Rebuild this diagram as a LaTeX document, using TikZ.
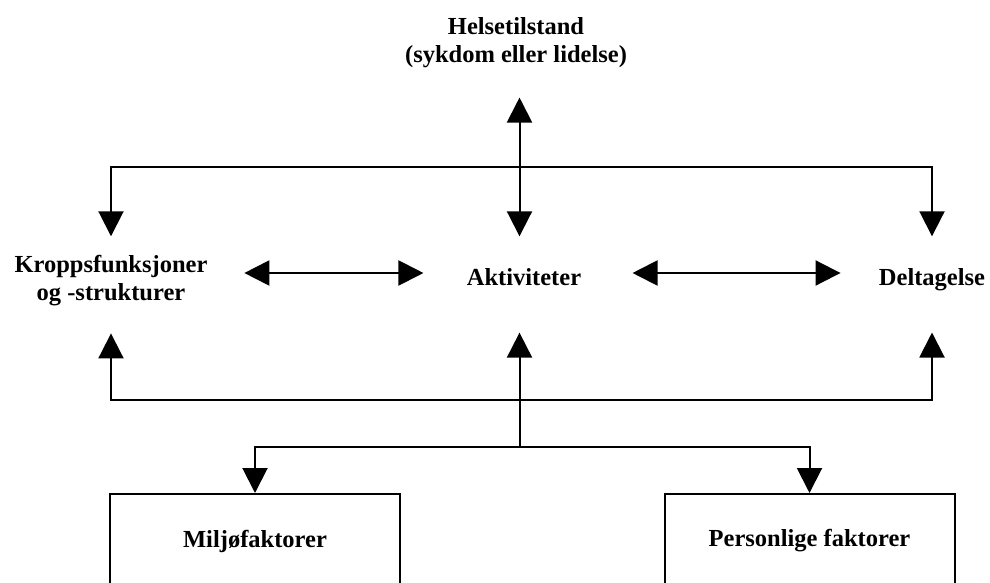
\documentclass[tikz,border=0pt]{standalone}
\usepackage{fontspec}
\setmainfont{Liberation Serif}
\usetikzlibrary{arrows.meta}
\begin{document}
\begin{tikzpicture}[x=0.5pt,y=-0.5pt,
  lbl/.style={font=\fontsize{12.25}{14}\selectfont\bfseries, inner sep=0pt, align=center},
  ln/.style={line width=1pt, black},
  arr/.style={ln, -{Triangle[length=12.5pt,width=12.5pt]}},
  dbl/.style={ln, {Triangle[length=12.5pt,width=12.5pt]}-{Triangle[length=12.5pt,width=12.5pt]}},
  box/.style={draw, line width=1pt, minimum width=145pt, minimum height=47pt, inner sep=0pt,
    font=\fontsize{12.25}{14}\selectfont\bfseries, anchor=north}
]
\useasboundingbox (0,0) rectangle (990,583);
\fill[white] (0,0) rectangle (990,583);

\node[lbl] (helse) at (516,43) {Helsetilstand\\(sykdom eller lidelse)};
\node[lbl] (kropp) at (111,281) {Kroppsfunksjoner\\og -strukturer};
\node[lbl, anchor=base] (akt) at (524,285) {Aktiviteter};
\node[lbl, anchor=base] (delt) at (932,285) {Deltagelse};
\node[box] (milj) at (255,493) {Miljøfaktorer};
\node[box] (pers) at (809.5,493) {Personlige faktorer};

\coordinate (topj) at (519.5,167);
\coordinate (botj) at (519.5,400);
\coordinate (lowj) at (519.5,447);
\coordinate (hrow) at (0,273);

\draw[dbl, shorten <=14.5pt, shorten >=15.65pt] (helse.south -| topj) -- (akt.north -| topj);
\draw[arr, shorten >=9.5pt] (topj) -| (kropp.north);
\draw[arr, shorten >=15.65pt] (topj) -| (delt.north);
\draw[arr, shorten >=13.35pt] (botj) -| (kropp.south);
\draw[arr, shorten >=20.85pt] (botj) -| (delt.south);
\draw[arr, shorten >=23.5pt] (lowj) -- (akt.south -| lowj);
\draw[arr] (lowj) -| (milj.north);
\draw[arr] (lowj) -| (pers.north);
\draw[dbl, shorten <=18.25pt, shorten >=21.5pt] (kropp.east |- hrow) -- (akt.west |- hrow);
\draw[dbl, shorten <=25.5pt, shorten >=19pt] (akt.east |- hrow) -- (delt.west |- hrow);
\end{tikzpicture}
\end{document}
